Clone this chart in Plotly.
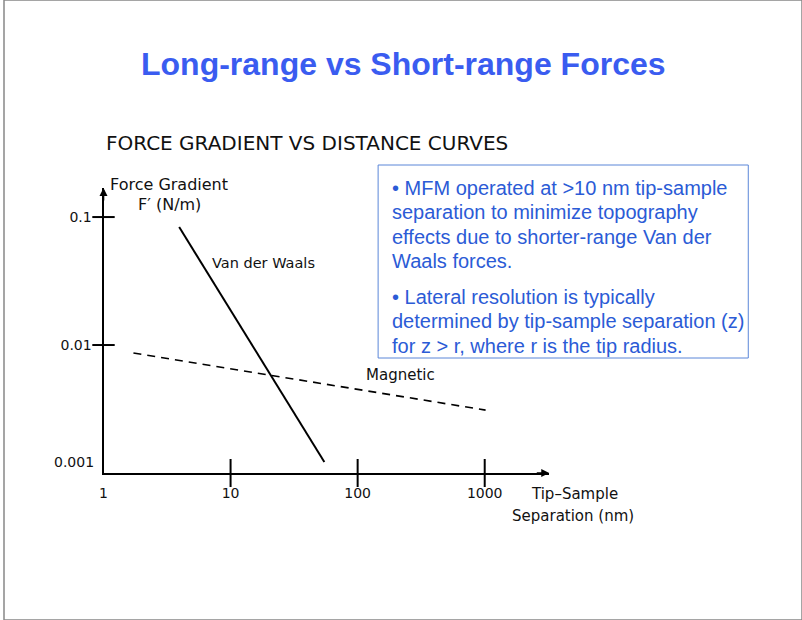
import plotly.graph_objects as go
import math

W, H = 802, 620

# ---------------- data ----------------
vdw_x = [3.94, 54.7]
vdw_y = [0.0835, 0.00122]
mag_x = [1.72, 1016]
mag_y = [0.00866, 0.0031]

x_tickvals = [1, 10, 100, 1000]
x_ticktext = ["1", "10", "100", "1000"]
x_tickmarks = [10, 100, 1000]
y_tickvals = [0.01, 0.1]
y_ticktext = ["0.01", "0.1"]
y_tickmarks = [0.01, 0.1]
y_bottom_label = "0.001"

title_text = "Long-range vs Short-range Forces"
header_text = "FORCE GRADIENT VS DISTANCE CURVES"
box_lines = [
    "\u2022 MFM operated at >10 nm tip-sample",
    "separation to minimize topography",
    "effects due to shorter-range Van der",
    "Waals forces.",
    "\u2022 Lateral resolution is typically",
    "determined by tip-sample separation (z)",
    "for z > r, where r is the tip radius.",
]
box_line_y = [188, 212, 237, 261, 297, 321, 346]

X_MIN, X_MAX = 1, 10 ** 3.508
Y_MIN, Y_MAX = 0.001, 10 ** -0.773


def px(x):
    return x / W


def py(y):
    return 1 - y / H


FONT = "DejaVu Sans"
TXT = "#111111"
BLUE_T = "#3a5cf0"
BLUE_B = "#2b5bd6"

fig = go.Figure()

fig.add_trace(go.Scatter(x=vdw_x, y=vdw_y, mode="lines",
                         line=dict(color="black", width=2), hoverinfo="skip"))
fig.add_trace(go.Scatter(x=mag_x, y=mag_y, mode="lines",
                         line=dict(color="black", width=1.6, dash="8px,6px"),
                         hoverinfo="skip"))
# crossing tick marks
fig.add_trace(go.Scatter(x=x_tickmarks, y=[Y_MIN] * len(x_tickmarks), mode="markers",
                         marker=dict(symbol="line-ns-open", size=20, color="black",
                                     line=dict(color="black", width=2)),
                         cliponaxis=False, hoverinfo="skip"))
fig.add_trace(go.Scatter(x=[X_MIN] * len(y_tickmarks), y=y_tickmarks, mode="markers",
                         marker=dict(symbol="line-ew-open", size=16, color="black",
                                     line=dict(color="black", width=2)),
                         cliponaxis=False, hoverinfo="skip"))

fig.update_layout(
    width=W, height=H, margin=dict(l=0, r=0, t=0, b=0),
    paper_bgcolor="white", plot_bgcolor="white", showlegend=False,
    xaxis=dict(type="log", range=[0, math.log10(X_MAX)],
               domain=[px(100), px(548)], anchor="y",
               showline=True, linewidth=2, linecolor="black",
               showgrid=False, zeroline=False,
               tickvals=x_tickvals, ticktext=x_ticktext,
               ticks="outside", ticklen=6, tickcolor="rgba(0,0,0,0)",
               tickfont=dict(family=FONT, size=14, color=TXT)),
    yaxis=dict(type="log", range=[-3, math.log10(Y_MAX)],
               domain=[py(473), py(188)], anchor="x",
               showline=True, linewidth=2, linecolor="black",
               showgrid=False, zeroline=False,
               tickvals=y_tickvals, ticktext=y_ticktext,
               ticks="outside", ticklen=7, tickcolor="rgba(0,0,0,0)",
               tickfont=dict(family=FONT, size=14, color=TXT)),
)


def label(x, y, text, size, color=TXT, family=FONT, xanchor="center", xref="paper",
          yref="paper", yshift=0):
    return dict(x=x, y=y, xref=xref, yref=yref, text=text, showarrow=False,
                xanchor=xanchor, yanchor="middle", yshift=yshift,
                font=dict(family=family, size=size, color=color))


ann = []
# arrowheads
ann.append(dict(x=math.log10(X_MAX), y=-3, xref="x", yref="y", ax=-14, ay=0,
                showarrow=True, arrowhead=2, arrowsize=1, arrowwidth=1.6,
                arrowcolor="black", text=""))
ann.append(dict(x=0, y=math.log10(Y_MAX), xref="x", yref="y", ax=0, ay=14,
                showarrow=True, arrowhead=2, arrowsize=1, arrowwidth=1.6,
                arrowcolor="black", text=""))
# bottom y label
ann.append(label(px(92), -3, y_bottom_label, 14, xanchor="right", yref="y", yshift=11))
# axis titles
ann.append(label(px(166), py(185), "Force Gradient", 16))
ann.append(label(px(166), py(204), "F\u2032 (N/m)", 16))
ann.append(label(px(573), py(494), "Tip\u2013Sample", 15))
ann.append(label(px(572), py(516), "Separation (nm)", 15))
# series labels
ann.append(label(1.261, -1.359, "Van der Waals", 14.5, xref="x", yref="y"))
ann.append(label(2.341, -2.234, "Magnetic", 15, xref="x", yref="y"))
# header and title
ann.append(label(px(100), py(143), header_text, 20, xanchor="left"))
ann.append(label(0.5, py(64), "<b>%s</b>" % title_text, 32, color=BLUE_T,
                 family="Liberation Sans"))
# text box
for t, yy in zip(box_lines, box_line_y):
    ann.append(label(px(388), py(yy), t, 20, color=BLUE_B, family="Liberation Sans",
                     xanchor="left"))

fig.update_layout(annotations=ann)

fig.add_shape(type="rect", xref="paper", yref="paper",
              x0=px(376), x1=px(748), y0=py(358), y1=py(165),
              line=dict(color="#5a86d8", width=1), fillcolor="white", layer="below")
fig.add_shape(type="rect", xref="paper", yref="paper",
              x0=0, x1=1, y0=0, y1=1,
              line=dict(color="#888888", width=1.5), layer="above")

fig.write_html("out.html")
